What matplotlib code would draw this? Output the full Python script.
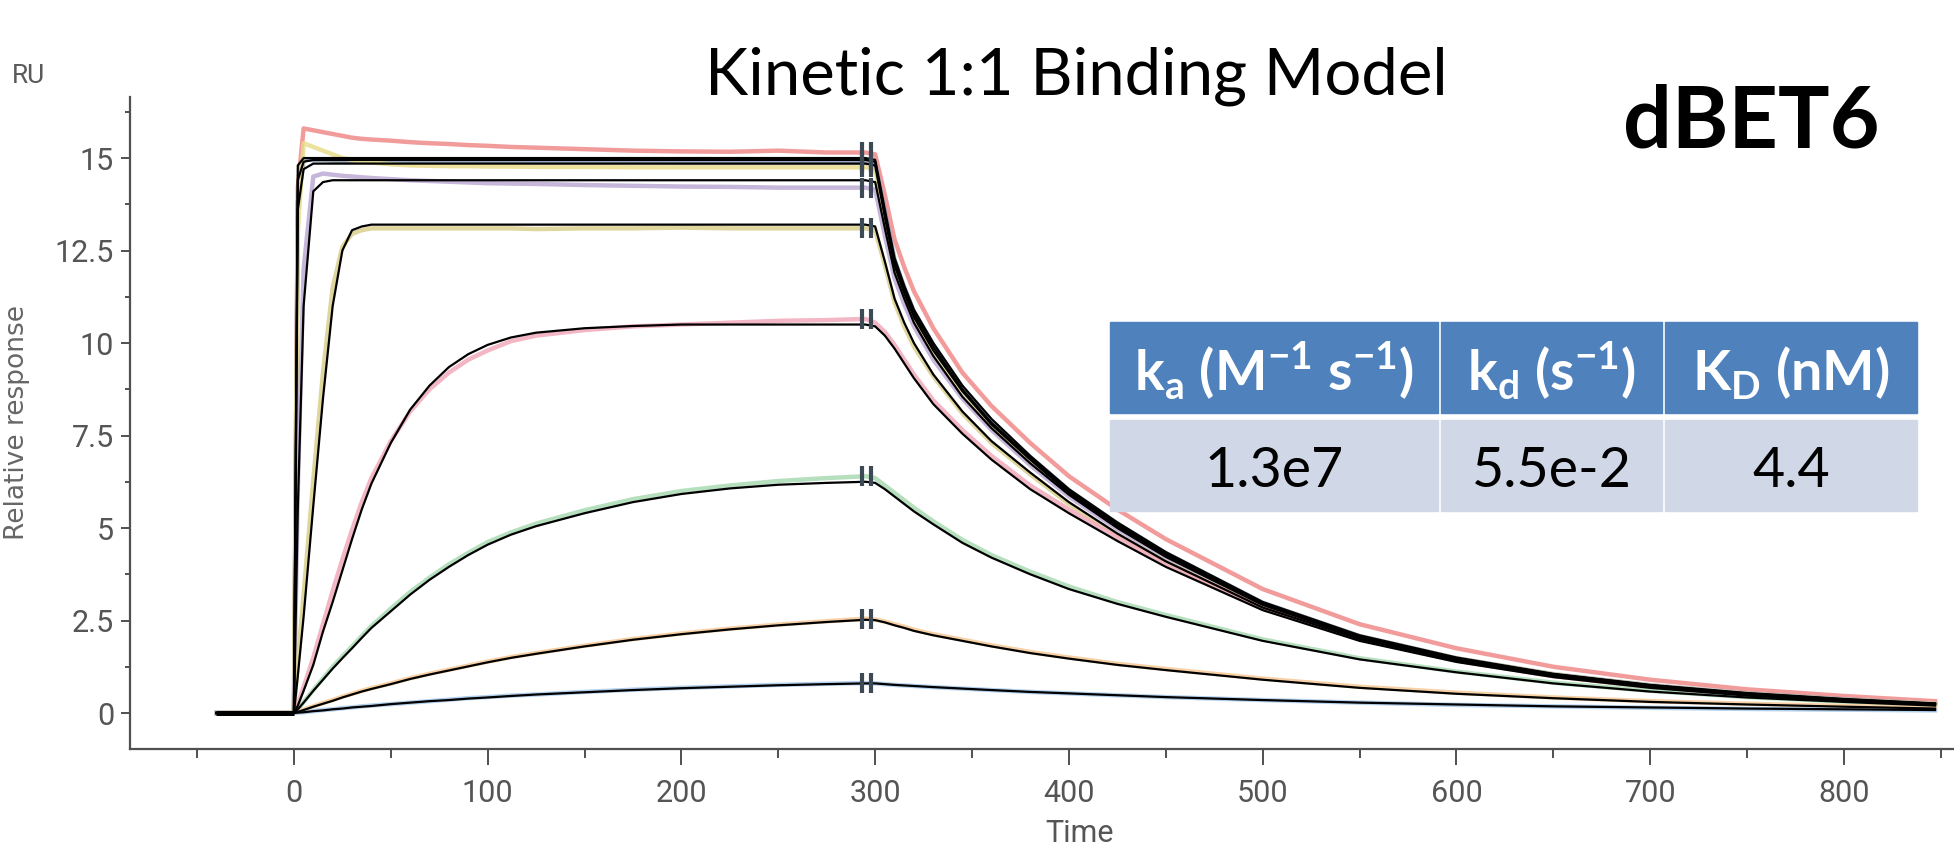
import matplotlib
matplotlib.use("Agg")
import matplotlib.pyplot as plt
from matplotlib.patches import Rectangle

# sample times (s) shared by every trace
time = [-40, 0, 2, 5, 10, 15, 20, 25, 30, 35, 40, 50, 60, 70, 80, 90, 100, 112, 125, 150, 175, 200, 225, 250, 275, 295,
        300, 305, 310, 315, 320, 330, 345, 360, 380, 400, 425, 450, 500, 550, 600, 650, 700, 750, 800, 847]

# fitted 1:1 curves (black)
fit_1 = [0, 0, 14.8, 15.0, 15.0, 15.0, 15.0, 15.0, 15.0, 15.0, 15.0, 15.0, 15.0, 15.0, 15.0, 15.0, 15.0, 15.0, 15.0, 15.0, 15.0, 15.0, 15.0, 15.0, 15.0, 15.0,
         14.95, 13.6, 12.3, 11.55, 10.9, 10.0, 8.85, 7.95, 6.95, 6.05, 5.15, 4.35, 3.0, 2.1, 1.5, 1.06, 0.76, 0.54, 0.38, 0.26]
fit_2 = [0, 0, 14.4, 14.9, 14.95, 14.95, 14.95, 14.95, 14.95, 14.95, 14.95, 14.95, 14.95, 14.95, 14.95, 14.95, 14.95, 14.95, 14.95, 14.95, 14.95, 14.95, 14.95, 14.95, 14.95, 14.95,
         14.9, 13.5, 12.2, 11.45, 10.8, 9.9, 8.75, 7.85, 6.9, 6.0, 5.1, 4.3, 2.97, 2.08, 1.48, 1.05, 0.75, 0.53, 0.37, 0.25]
fit_3 = [0, 0, 13.6, 14.7, 14.85, 14.85, 14.85, 14.85, 14.85, 14.85, 14.85, 14.85, 14.85, 14.85, 14.85, 14.85, 14.85, 14.85, 14.85, 14.85, 14.85, 14.85, 14.85, 14.85, 14.85, 14.85,
         14.8, 13.4, 12.1, 11.35, 10.7, 9.8, 8.7, 7.8, 6.85, 5.95, 5.05, 4.27, 2.95, 2.06, 1.47, 1.04, 0.74, 0.52, 0.36, 0.25]
fit_4 = [0, 0, 5.5, 11.0, 14.1, 14.35, 14.4, 14.4, 14.4, 14.4, 14.4, 14.4, 14.4, 14.4, 14.4, 14.4, 14.4, 14.4, 14.4, 14.4, 14.4, 14.4, 14.4, 14.4, 14.4, 14.4,
         14.35, 13.1, 11.9, 11.2, 10.55, 9.65, 8.55, 7.7, 6.75, 5.9, 5.0, 4.22, 2.92, 2.04, 1.45, 1.03, 0.73, 0.52, 0.36, 0.24]
fit_5 = [0, 0, 1.0, 2.6, 5.6, 8.5, 11.0, 12.5, 13.05, 13.15, 13.2, 13.2, 13.2, 13.2, 13.2, 13.2, 13.2, 13.2, 13.2, 13.2, 13.2, 13.2, 13.2, 13.2, 13.2, 13.2,
         13.15, 12.2, 11.2, 10.55, 10.0, 9.15, 8.15, 7.35, 6.5, 5.7, 4.85, 4.1, 2.85, 2.0, 1.42, 1.0, 0.71, 0.5, 0.35, 0.24]
fit_6 = [0, 0, 0.2, 0.6, 1.3, 2.2, 3.0, 3.85, 4.7, 5.5, 6.2, 7.3, 8.2, 8.85, 9.35, 9.7, 9.95, 10.15, 10.28, 10.4, 10.46, 10.5, 10.5, 10.5, 10.5, 10.5,
         10.45, 10.2, 9.85, 9.45, 9.05, 8.35, 7.55, 6.85, 6.05, 5.4, 4.65, 3.95, 2.78, 1.95, 1.38, 0.97, 0.68, 0.47, 0.33, 0.22]
fit_7 = [0, 0, 0.1, 0.28, 0.6, 0.9, 1.2, 1.48, 1.75, 2.03, 2.3, 2.75, 3.2, 3.6, 3.95, 4.27, 4.55, 4.82, 5.05, 5.4, 5.7, 5.92, 6.07, 6.17, 6.22, 6.25,
         6.22, 6.05, 5.85, 5.65, 5.45, 5.1, 4.6, 4.2, 3.75, 3.35, 2.95, 2.6, 1.95, 1.45, 1.1, 0.8, 0.58, 0.42, 0.3, 0.2]
fit_8 = [0, 0, 0.03, 0.08, 0.17, 0.25, 0.33, 0.42, 0.5, 0.58, 0.65, 0.78, 0.92, 1.04, 1.15, 1.26, 1.37, 1.49, 1.6, 1.8, 1.98, 2.13, 2.26, 2.37, 2.46, 2.52,
         2.51, 2.45, 2.37, 2.3, 2.22, 2.1, 1.95, 1.8, 1.62, 1.47, 1.3, 1.16, 0.9, 0.68, 0.52, 0.4, 0.3, 0.23, 0.17, 0.12]
fit_9 = [0, 0, 0.01, 0.02, 0.05, 0.07, 0.1, 0.12, 0.15, 0.17, 0.19, 0.24, 0.28, 0.32, 0.35, 0.39, 0.42, 0.46, 0.5, 0.56, 0.62, 0.67, 0.71, 0.75, 0.78, 0.8,
         0.8, 0.78, 0.76, 0.745, 0.73, 0.7, 0.66, 0.62, 0.57, 0.53, 0.48, 0.43, 0.35, 0.28, 0.23, 0.18, 0.15, 0.12, 0.1, 0.08]

# measured sensorgrams (coloured)
data_1 = [0, 0, 14.2, 15.8, 15.75, 15.7, 15.65, 15.6, 15.55, 15.52, 15.5, 15.47, 15.43, 15.4, 15.38, 15.35, 15.33, 15.3, 15.28, 15.24, 15.2, 15.18, 15.17, 15.2, 15.15, 15.15,
          15.1, 14.0, 12.8, 12.05, 11.4, 10.4, 9.2, 8.3, 7.3, 6.4, 5.5, 4.7, 3.35, 2.4, 1.75, 1.25, 0.9, 0.64, 0.46, 0.32]
data_2 = [0, 0, 13.8, 14.95, 14.95, 14.95, 14.93, 14.92, 14.92, 14.91, 14.91, 14.9, 14.9, 14.9, 14.9, 14.9, 14.9, 14.9, 14.89, 14.89, 14.89, 14.88, 14.88, 14.88, 14.88, 14.88,
          14.85, 13.55, 12.25, 11.5, 10.85, 9.95, 8.8, 7.9, 6.92, 6.02, 5.12, 4.32, 2.98, 2.08, 1.48, 1.05, 0.75, 0.53, 0.37, 0.25]
data_3 = [0, 0, 13.0, 15.4, 15.3, 15.2, 15.1, 15.0, 14.95, 14.9, 14.88, 14.83, 14.8, 14.79, 14.78, 14.78, 14.77, 14.77, 14.76, 14.76, 14.75, 14.75, 14.75, 14.75, 14.75, 14.75,
          14.7, 13.35, 12.05, 11.35, 10.7, 9.8, 8.7, 7.8, 6.85, 5.95, 5.05, 4.27, 2.95, 2.06, 1.47, 1.04, 0.74, 0.52, 0.36, 0.25]
data_4 = [0, 0, 6.0, 12.0, 14.5, 14.58, 14.55, 14.52, 14.5, 14.48, 14.46, 14.43, 14.4, 14.38, 14.36, 14.34, 14.32, 14.31, 14.3, 14.27, 14.25, 14.23, 14.22, 14.2, 14.2, 14.2,
          14.15, 12.9, 11.75, 11.05, 10.45, 9.55, 8.5, 7.65, 6.7, 5.85, 4.97, 4.2, 2.9, 2.03, 1.44, 1.02, 0.73, 0.51, 0.36, 0.24]
data_5 = [0, 0, 1.4, 3.2, 6.3, 9.2, 11.5, 12.6, 12.95, 13.05, 13.1, 13.1, 13.1, 13.1, 13.1, 13.1, 13.1, 13.1, 13.08, 13.1, 13.1, 13.12, 13.1, 13.1, 13.1, 13.1,
          13.05, 12.1, 11.1, 10.45, 9.9, 9.1, 8.1, 7.3, 6.45, 5.65, 4.82, 4.08, 2.84, 2.0, 1.42, 1.0, 0.71, 0.5, 0.35, 0.24]
data_6 = [0, 0, 0.25, 0.7, 1.5, 2.4, 3.3, 4.15, 4.95, 5.7, 6.35, 7.35, 8.15, 8.75, 9.2, 9.55, 9.8, 10.05, 10.2, 10.35, 10.45, 10.5, 10.55, 10.6, 10.62, 10.65,
          10.55, 10.3, 9.95, 9.55, 9.15, 8.45, 7.65, 6.95, 6.15, 5.5, 4.75, 4.05, 2.85, 2.0, 1.42, 1.0, 0.7, 0.49, 0.34, 0.23]
data_7 = [0, 0, 0.1, 0.3, 0.62, 0.93, 1.25, 1.53, 1.8, 2.08, 2.35, 2.82, 3.27, 3.66, 4.02, 4.33, 4.62, 4.88, 5.12, 5.48, 5.78, 6.0, 6.15, 6.27, 6.35, 6.4,
          6.35, 6.15, 5.95, 5.75, 5.55, 5.18, 4.68, 4.27, 3.82, 3.42, 3.0, 2.65, 1.99, 1.48, 1.12, 0.82, 0.6, 0.43, 0.31, 0.21]
data_8 = [0, 0, 0.03, 0.09, 0.18, 0.27, 0.35, 0.44, 0.52, 0.6, 0.67, 0.8, 0.94, 1.06, 1.17, 1.28, 1.39, 1.51, 1.62, 1.82, 2.0, 2.15, 2.28, 2.39, 2.48, 2.55,
          2.53, 2.47, 2.4, 2.33, 2.25, 2.13, 1.98, 1.83, 1.65, 1.5, 1.33, 1.19, 0.93, 0.71, 0.55, 0.42, 0.32, 0.25, 0.19, 0.14]
data_9 = [0, 0, 0.01, 0.02, 0.05, 0.08, 0.1, 0.13, 0.15, 0.18, 0.2, 0.24, 0.28, 0.32, 0.36, 0.4, 0.43, 0.47, 0.5, 0.57, 0.63, 0.68, 0.72, 0.76, 0.79, 0.81,
          0.8, 0.78, 0.76, 0.745, 0.73, 0.7, 0.66, 0.62, 0.57, 0.53, 0.48, 0.43, 0.35, 0.28, 0.22, 0.18, 0.14, 0.11, 0.09, 0.07]

fits = [fit_1, fit_2, fit_3, fit_4, fit_5, fit_6, fit_7, fit_8, fit_9]
data = [data_1, data_2, data_3, data_4, data_5, data_6, data_7, data_8, data_9]
data_colors = ["#f08a8a", "#8a9db5", "#e9dc8c", "#bcaad4", "#d9cf8c",
               "#f2a9bb", "#a9dab3", "#f6c996", "#a6c8ea"]

# report point markers near end of injection
report_times = [293, 298]

x_ticks = [0, 100, 200, 300, 400, 500, 600, 700, 800]
y_ticks = [0, 2.5, 5, 7.5, 10, 12.5, 15]
y_tick_labels = ["0", "2.5", "5", "7.5", "10", "12.5", "15"]

table_header = [r"k$_\mathregular{a}$ (M$^\mathregular{-1}$ s$^\mathregular{-1}$)",
                r"k$_\mathregular{d}$ (s$^\mathregular{-1}$)",
                r"K$_\mathregular{D}$ (nM)"]
table_values = ["1.3e7", "5.5e-2", "4.4"]

plt.rcParams["font.family"] = ["Roboto", "DejaVu Sans"]

W, H = 1954, 846
fig = plt.figure(figsize=(W / 100, H / 100), dpi=100)
ax = fig.add_axes([130 / W, 1 - 749 / H, (W - 130) / W, (749 - 97) / H])

for y, c in zip(data, data_colors):
    ax.plot(time, y, color=c, lw=3.2, alpha=0.85, zorder=2)
for y in fits:
    ax.plot(time, y, color="black", lw=1.6, zorder=3)
# the pre-injection baseline is a pile of overlapping traces
ax.plot(time[:2], fit_1[:2], color="black", lw=3.6, solid_capstyle="butt", zorder=3)

i295 = time.index(295)
for y in data:
    for t in report_times:
        ax.plot([t], [y[i295]], marker="|", ms=15, mew=3, color="#3d4a56", zorder=4)

ax.set_xlim(-84.6, 856.8)
ax.set_ylim(-0.973, 16.65)
ax.set_xticks(x_ticks)
ax.set_xticks([-50, 50, 150, 250, 350, 450, 550, 650, 750, 850], minor=True)
ax.set_yticks(y_ticks)
ax.set_yticklabels(y_tick_labels)
ax.set_yticks([1.25, 3.75, 6.25, 8.75, 11.25, 13.75, 16.25], minor=True)

for s in ["top", "right"]:
    ax.spines[s].set_visible(False)
for s in ["left", "bottom"]:
    ax.spines[s].set_color("#505050")
    ax.spines[s].set_linewidth(1.6)

ax.tick_params(axis="x", which="major", length=11.5, width=1.4, color="#505050",
               labelsize=22, labelcolor="#555555", pad=10)
ax.tick_params(axis="x", which="minor", length=6.5, width=1.4, color="#505050")
ax.tick_params(axis="y", which="major", length=6.5, width=1.4, color="#505050",
               labelsize=22, labelcolor="#555555", pad=5)
ax.tick_params(axis="y", which="minor", length=3.6, width=1.4, color="#505050")

fig.text(1080 / W, 1 - 842 / H, "Time", ha="center", va="baseline",
         fontsize=22, color="#555555")
fig.text(17 / W, 1 - 422 / H, "Relative response", rotation=90, ha="center", va="center",
         fontsize=19, color="#666666", family="DejaVu Sans")
fig.text(12 / W, 1 - 83 / H, "RU", ha="left", va="baseline", fontsize=19, color="#5a5a5a")

fig.text(1076 / W, 1 - 95 / H, "Kinetic 1:1 Binding Model", ha="center", va="baseline",
         fontsize=47, family="Lato", color="black")
fig.text(1623 / W, 1 - 147 / H, "dBET6", ha="left", va="baseline",
         fontsize=62, family="Lato", weight="bold", color="black")

# parameter table drawn in pixel space
col_edges = [(1110, 1438), (1441, 1662), (1665, 1917)]
for (x0, x1), head, val in zip(col_edges, table_header, table_values):
    fig.patches.append(Rectangle((x0 / W, 1 - 413 / H), (x1 - x0) / W, (413 - 322) / H,
                                 transform=fig.transFigure, color="#4f81bd", zorder=5))
    fig.patches.append(Rectangle((x0 / W, 1 - 511 / H), (x1 - x0) / W, (511 - 420) / H,
                                 transform=fig.transFigure, color="#d0d8e8", zorder=5))
    xc = (x0 + x1) / 2 / W
    fig.text(xc, 1 - 390 / H, head, ha="center", va="baseline", fontsize=40,
             family="Lato", weight="bold", color="white", zorder=6)
    fig.text(xc, 1 - 487 / H, val, ha="center", va="baseline", fontsize=40,
             family="Lato", color="black", zorder=6)

fig.savefig("out.png", dpi=100)
